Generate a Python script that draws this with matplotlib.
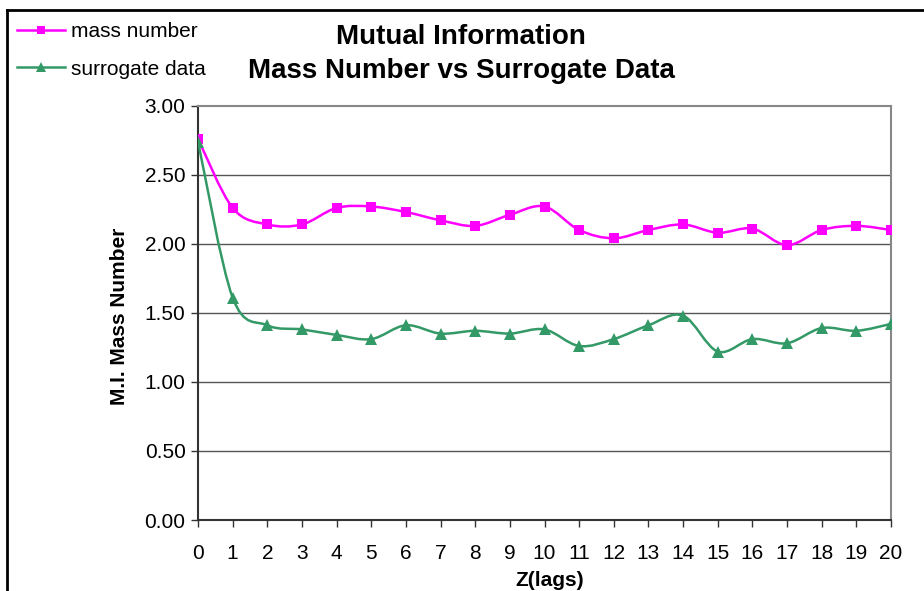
import numpy as np
import matplotlib
matplotlib.use("Agg")
import matplotlib.pyplot as plt
from matplotlib.path import Path
from matplotlib.patches import PathPatch
from matplotlib.lines import Line2D

plt.rcParams['font.family'] = ['Liberation Sans', 'DejaVu Sans']

lags = list(range(21))
mass_number = [2.76, 2.26, 2.14, 2.14, 2.26, 2.27, 2.23, 2.17, 2.13, 2.21, 2.27,
               2.10, 2.04, 2.10, 2.14, 2.08, 2.11, 1.99, 2.10, 2.13, 2.10]
surrogate = [2.74, 1.61, 1.41, 1.38, 1.34, 1.31, 1.41, 1.35, 1.37, 1.35, 1.38,
             1.26, 1.31, 1.41, 1.48, 1.22, 1.31, 1.28, 1.39, 1.37, 1.42]
y_ticks = [0.0, 0.5, 1.0, 1.5, 2.0, 2.5, 3.0]

MAG = '#FF00FF'
GRN = '#339966'


def smooth_path(x, y):
    # Excel-style smoothed line: cubic Bezier segments (Catmull-Rom control points)
    x = np.asarray(x, float)
    y = np.asarray(y, float)
    n = len(x)
    verts = [(x[0], y[0])]
    codes = [Path.MOVETO]
    for i in range(n - 1):
        p0 = np.array([x[max(i - 1, 0)], y[max(i - 1, 0)]])
        p1 = np.array([x[i], y[i]])
        p2 = np.array([x[i + 1], y[i + 1]])
        p3 = np.array([x[min(i + 2, n - 1)], y[min(i + 2, n - 1)]])
        c1 = p1 + (p2 - p0) / 6.0
        c2 = p2 - (p3 - p1) / 6.0
        verts += [tuple(c1), tuple(c2), tuple(p2)]
        codes += [Path.CURVE4] * 3
    return Path(verts, codes)


fig = plt.figure(figsize=(9.24, 5.91), dpi=100)
W, H = 924, 591
ax = fig.add_axes([198 / W, 1 - 520 / H, (891 - 198) / W, (520 - 105.7) / H])

for yv in y_ticks[1:-1]:
    ax.axhline(yv, color='#555555', lw=1.0, zorder=1)

for data, col, mk, ms in [(mass_number, MAG, 's', 7), (surrogate, GRN, '^', 8)]:
    ax.add_patch(PathPatch(smooth_path(lags, data), facecolor='none',
                           edgecolor=col, lw=1.8, zorder=3))
    ax.plot(lags, data, linestyle='none', marker=mk, color=col, ms=ms,
            markeredgewidth=0, zorder=4)

ax.set_xlim(0, 20)
ax.set_ylim(0, 3)
ax.set_xticks(lags)
ax.set_xticklabels([str(v) for v in lags])
ax.set_yticks(y_ticks)
ax.set_yticklabels([f'{v:.2f}' for v in y_ticks])
ax.tick_params(axis='both', labelsize=15, direction='out', length=5, width=1,
               color='#333333', pad=4)
ax.tick_params(axis='x', pad=12)
for side in ['top', 'right']:
    ax.spines[side].set_color('#888888')
    ax.spines[side].set_linewidth(1.5)
for side in ['left', 'bottom']:
    ax.spines[side].set_color('#333333')
    ax.spines[side].set_linewidth(1.5)

fig.text(550 / W, 1 - 581 / H, 'Z(lags)', ha='center', va='center',
         fontsize=15, fontweight='bold')
fig.text(120 / W, 1 - 316 / H, 'M.I. Mass Number', ha='center', va='center',
         rotation=90, fontsize=15, fontweight='bold')

fig.text(461 / W, 1 - 37 / H, 'Mutual Information', ha='center', va='center',
         fontsize=20, fontweight='bold')
fig.text(461 / W, 1 - 71 / H, 'Mass Number vs Surrogate Data', ha='center',
         va='center', fontsize=20, fontweight='bold')

handles = [Line2D([], [], color=MAG, lw=1.8, marker='s', ms=6, markeredgewidth=0),
           Line2D([], [], color=GRN, lw=1.8, marker='^', ms=7, markeredgewidth=0)]
fig.legend(handles, ['mass number', 'surrogate data'], loc='upper left',
           bbox_to_anchor=(17 / W, 1 - 22 / H), frameon=False, fontsize=15,
           handlelength=2.3, handletextpad=0.3, labelspacing=0.9,
           borderaxespad=0, borderpad=0)

# outer chart border (clipped by the figure edges at right and bottom)
fig.add_artist(Line2D([7 / W, 1.0], [1 - 10 / H, 1 - 10 / H], color='black', lw=2))
fig.add_artist(Line2D([7 / W, 7 / W], [0.0, 1 - 10 / H], color='black', lw=2))

fig.savefig('out.png', dpi=100)
